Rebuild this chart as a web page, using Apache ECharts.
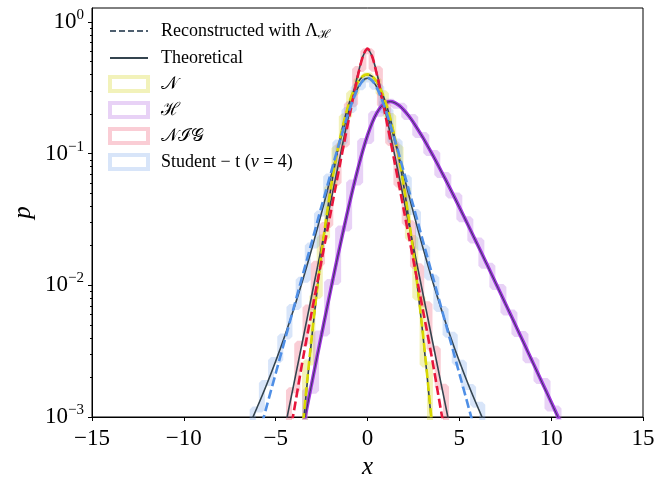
<!DOCTYPE html>
<html>
<head>
<meta charset="utf-8">
<script src="https://cdn.jsdelivr.net/npm/echarts@6/dist/echarts.min.js"></script>
<style>
  html, body { margin: 0; padding: 0; background: #fff; }
  #main { width: 669px; height: 477px; }
</style>
</head>
<body>
<div id="main"></div>
<script>
var xGrid = [-7, -6.5, -6, -5.5, -5, -4.5, -4, -3.5, -3, -2.5, -2.25, -2, -1.75, -1.5, -1.25, -1, -0.75, -0.5, -0.25, 0,
  0.25, 0.5, 0.75, 1, 1.25, 1.5, 1.75, 2, 2.25, 2.5, 3, 3.5, 4, 4.5, 5, 5.5, 6, 6.5, 7, 7.5, 8, 8.5, 9, 9.5, 10, 10.5, 11];

// theoretical curves (solid grey)
var normTheory = [null, null, null, null, null, null, 0.000134, 0.000873, 0.00443, 0.0175, 0.0317, 0.0540, 0.0863, 0.1295, 0.1826, 0.2420, 0.3011, 0.3521, 0.3867, 0.3989,
  0.3867, 0.3521, 0.3011, 0.2420, 0.1826, 0.1295, 0.0863, 0.0540, 0.0317, 0.0175, 0.00443, 0.000873, 0.000134, null, null, null, null, null, null, null, null, null, null, null, null, null, null];
var hypTheory = [null, null, null, null, null, null, 0.000375, 0.000848, 0.00190, 0.00424, 0.00628, 0.00927, 0.0136, 0.0198, 0.0286, 0.0408, 0.0574, 0.0790, 0.1061, 0.1377,
  0.1715, 0.2033, 0.2288, 0.2444, 0.2491, 0.2434, 0.2309, 0.2131, 0.1934, 0.1727, 0.1336, 0.1004, 0.0742, 0.0542, 0.0392, 0.0282, 0.0202, 0.0144, 0.01026, 0.00729, 0.00517, 0.00366, 0.00259, 0.00183, 0.00129, 0.000911, 0.000642];
var nigTheory = [null, null, null, null, 0.00037, 0.00082, 0.00181, 0.0040, 0.0089, 0.0197, 0.0292, 0.0433, 0.0641, 0.0946, 0.139, 0.2035, 0.294, 0.414, 0.549, 0.62,
  0.549, 0.414, 0.294, 0.2035, 0.139, 0.0946, 0.0641, 0.0433, 0.0292, 0.0197, 0.0089, 0.0040, 0.00181, 0.00082, 0.00037, null, null, null, null, null, null, null, null, null, null, null, null];
var tTheory = [0.000587, 0.000825, 0.00119, 0.00175, 0.00265, 0.00415, 0.00671, 0.01127, 0.0197, 0.0357, 0.0485, 0.0663, 0.0905, 0.1229, 0.1644, 0.2147, 0.2699, 0.3223, 0.3608, 0.375,
  0.3608, 0.3223, 0.2699, 0.2147, 0.1644, 0.1229, 0.0905, 0.0663, 0.0485, 0.0357, 0.0197, 0.01127, 0.00671, 0.00415, 0.00265, 0.00175, 0.00119, 0.000825, 0.000587, null, null, null, null, null, null, null, null];

// reconstructed with Lambda_H (coloured dashed)
var normRecon = [null, null, null, null, null, null, 0.00015, 0.00092, 0.00452, 0.0178, 0.0321, 0.0545, 0.0868, 0.1301, 0.1835, 0.2431, 0.3025, 0.3540, 0.3890, 0.4010,
  0.3885, 0.3530, 0.3015, 0.2425, 0.1830, 0.1298, 0.0866, 0.0543, 0.0320, 0.0177, 0.00450, 0.00090, 0.00014, null, null, null, null, null, null, null, null, null, null, null, null, null, null];
var hypRecon = [null, null, null, null, null, null, 0.000380, 0.000852, 0.00191, 0.00425, 0.00630, 0.00930, 0.0137, 0.0199, 0.0287, 0.0409, 0.0575, 0.0792, 0.1063, 0.1379,
  0.1717, 0.2035, 0.2290, 0.2446, 0.2492, 0.2435, 0.2310, 0.2132, 0.1935, 0.1728, 0.1337, 0.1005, 0.0743, 0.0543, 0.0393, 0.0283, 0.0203, 0.0145, 0.01030, 0.00732, 0.00519, 0.00368, 0.00260, 0.00184, 0.00130, 0.000915, 0.000645];
var nigRecon = [null, null, null, null, null, 0.00046, 0.00112, 0.00285, 0.00668, 0.0155, 0.0236, 0.0360, 0.0548, 0.0830, 0.1255, 0.1885, 0.2795, 0.4045, 0.5500, 0.6300,
  0.5500, 0.4045, 0.2795, 0.1885, 0.1255, 0.0830, 0.0548, 0.0360, 0.0236, 0.0155, 0.00668, 0.00285, 0.00112, 0.00046, null, null, null, null, null, null, null, null, null, null, null, null, null];
var tRecon = [null, 0.00037, 0.00066, 0.00119, 0.00214, 0.00385, 0.0069, 0.0124, 0.0222, 0.0400, 0.0530, 0.0710, 0.0950, 0.1260, 0.1650, 0.2120, 0.2650, 0.3180, 0.3600, 0.3780,
  0.3600, 0.3180, 0.2650, 0.2120, 0.1650, 0.1260, 0.0950, 0.0710, 0.0530, 0.0400, 0.0222, 0.0124, 0.0069, 0.00385, 0.00214, 0.00119, 0.00066, 0.00037, null, null, null, null, null, null, null, null, null];

// histograms: bin edges and bin heights
var normEdges = [-3.8, -3.4, -3.0, -2.6, -2.2, -1.8, -1.4, -1.0, -0.6, -0.2, 0.2, 0.6, 1.0, 1.4, 1.8, 2.2, 2.6, 3.0, 3.4, 3.8];
var normHist = [0.00070, 0.0026, 0.0083, 0.0231, 0.0552, 0.1102, 0.1918, 0.2875, 0.3652, 0.3935, 0.3671, 0.2882, 0.1935, 0.1118, 0.0546, 0.0229, 0.0081, 0.0025, 0.00066];
var hypEdges = [-4.0, -3.4, -2.8, -2.2, -1.6, -1.0, -0.4, 0.2, 0.8, 1.4, 2.0, 2.6, 3.2, 3.8, 4.4, 5.0, 5.6, 6.2, 6.8, 7.4, 8.0, 8.6, 9.2, 9.8, 10.4, 11.0];
var hypHist = [0.00066, 0.00158, 0.00431, 0.0106, 0.0271, 0.0605, 0.1252, 0.2011, 0.2480, 0.2319, 0.1902, 0.1389, 0.1015, 0.0689, 0.0481, 0.0318, 0.0219, 0.0141, 0.00972, 0.00622, 0.00428, 0.00270, 0.00188, 0.00116, 0.00082];
var nigEdges = [-4.275, -3.825, -3.375, -2.925, -2.475, -2.025, -1.575, -1.125, -0.675, -0.225, 0.225, 0.675, 1.125, 1.575, 2.025, 2.475, 2.925, 3.375, 3.825, 4.275];
var nigHist = [0.0016, 0.0036, 0.0068, 0.0146, 0.0287, 0.0601, 0.1178, 0.2381, 0.4396, 0.6012, 0.4425, 0.2348, 0.1205, 0.0585, 0.0296, 0.0140, 0.0072, 0.0033, 0.0017];
var tEdges = [-6.75, -6.25, -5.75, -5.25, -4.75, -4.25, -3.75, -3.25, -2.75, -2.25, -1.75, -1.25, -0.75, -0.25, 0.25, 0.75, 1.25, 1.75, 2.25, 2.75, 3.25, 3.75, 4.25, 4.75, 5.25, 5.75, 6.25, 6.75];
var tHist = [0.00088, 0.00114, 0.00181, 0.00271, 0.00408, 0.00684, 0.01102, 0.0201, 0.0352, 0.0671, 0.1218, 0.2152, 0.3195, 0.3668, 0.3231, 0.2139, 0.1240, 0.0656, 0.0361, 0.0194, 0.01148, 0.00662, 0.00421, 0.00258, 0.00169, 0.00124, 0.00079];

var yTicks = [0.001, 0.01, 0.1, 1];
var yMinor = [0.002, 0.003, 0.004, 0.005, 0.006, 0.007, 0.008, 0.009,
  0.02, 0.03, 0.04, 0.05, 0.06, 0.07, 0.08, 0.09,
  0.2, 0.3, 0.4, 0.5, 0.6, 0.7, 0.8, 0.9];

var legendText = {
  recon: 'Reconstructed with Λ{sub|ℋ}',
  theory: 'Theoretical',
  histN: '𝒩',
  histH: 'ℋ',
  histNIG: '𝒩ℐ𝒢',
  histT: 'Student − t ({it|ν} = 4)'
};

var FONT = 'Liberation Serif';
var GREY = '#34444f';
var FLOOR = 1e-6;
var NOFILL = 'rgba(0,0,0,0)';

function curve(ys) {
  var out = [];
  for (var i = 0; i < xGrid.length; i++) {
    if (ys[i] != null) out.push([xGrid[i], ys[i]]);
  }
  return out;
}

function steps(edges, h) {
  var out = [[edges[0], FLOOR]];
  for (var i = 0; i < h.length; i++) out.push([edges[i], h[i]]);
  out.push([edges[edges.length - 1], h[h.length - 1]]);
  out.push([edges[edges.length - 1], FLOOR]);
  return out;
}

function histSeries(name, edges, h, color) {
  return {
    name: name, type: 'line', step: 'end', data: steps(edges, h),
    symbol: 'none', silent: true, z: 1,
    lineStyle: {color: color, width: 6, cap: 'butt'},
    itemStyle: {color: color}
  };
}

function lineSeries(name, ys, color, width, dashed, z) {
  return {
    name: name, type: 'line', data: curve(ys), symbol: 'none', silent: true,
    smooth: 0.3, z: z,
    lineStyle: {color: color, width: width, type: dashed ? [9, 4] : 'solid'},
    itemStyle: {color: color}
  };
}

var cN = 'rgba(214, 214, 40, 0.32)';
var cH = 'rgba(180, 105, 225, 0.30)';
var cNIG = 'rgba(238, 75, 105, 0.28)';
var cT = 'rgba(115, 160, 235, 0.28)';

var myChart = echarts.init(document.getElementById('main'), null, {renderer: 'canvas'});

var option = {
  animation: false,
  backgroundColor: '#fff',
  grid: {
    left: 92, right: 26, top: 8, bottom: 60,
    containLabel: false, outerBoundsMode: 'none',
    show: true, borderColor: '#000', borderWidth: 1
  },
  legend: {
    orient: 'vertical', left: 103, top: 16,
    itemWidth: 38, itemHeight: 14, itemGap: 8,
    selectedMode: false,
    formatter: function (name) { return legendText[name]; },
    textStyle: {
      fontFamily: FONT, fontSize: 18, lineHeight: 18, color: '#000', padding: [0, 0, 0, 8],
      rich: {
        sub: {fontFamily: FONT, fontSize: 12, lineHeight: 18, padding: [8, 0, 0, 0]},
        it: {fontFamily: FONT, fontSize: 18, lineHeight: 18, fontStyle: 'italic'}
      }
    },
    data: [
      {name: 'recon', itemStyle: {color: NOFILL, borderColor: NOFILL, borderWidth: 0}},
      {name: 'theory', itemStyle: {color: NOFILL, borderColor: NOFILL, borderWidth: 0}},
      {name: 'histN', icon: 'rect', itemStyle: {color: NOFILL, borderColor: cN, borderWidth: 4}},
      {name: 'histH', icon: 'rect', itemStyle: {color: NOFILL, borderColor: cH, borderWidth: 4}},
      {name: 'histNIG', icon: 'rect', itemStyle: {color: NOFILL, borderColor: cNIG, borderWidth: 4}},
      {name: 'histT', icon: 'rect', itemStyle: {color: NOFILL, borderColor: cT, borderWidth: 4}}
    ]
  },
  xAxis: {
    type: 'value', min: -15, max: 15, interval: 5,
    name: 'x', nameLocation: 'middle', nameGap: 38,
    nameTextStyle: {fontFamily: FONT, fontSize: 25, fontStyle: 'italic', color: '#000'},
    axisLine: {onZero: false, lineStyle: {color: '#000', width: 1}},
    axisTick: {inside: false, length: 4, lineStyle: {color: '#000'}},
    axisLabel: {
      fontFamily: FONT, fontSize: 23, color: '#000', margin: 10,
      formatter: function (v) { return String(v).replace('-', '−'); }
    },
    splitLine: {show: false}
  },
  yAxis: [{
    type: 'log', logBase: 10, min: 0.001, max: 1.28,
    name: 'p', nameLocation: 'middle', nameGap: 56, nameMoveOverlap: false,
    nameTextStyle: {fontFamily: FONT, fontSize: 25, fontStyle: 'italic', color: '#000'},
    axisLine: {onZero: false, lineStyle: {color: '#000', width: 1}},
    axisTick: {inside: false, length: 4, customValues: yTicks, lineStyle: {color: '#000'}},
    axisLabel: {
      customValues: yTicks, margin: 8,
      fontFamily: FONT, fontSize: 23, color: '#000',
      formatter: function (v) {
        var e = Math.round(Math.log10(v));
        return '10{sup|' + (e < 0 ? '−' + (-e) : e) + '}';
      },
      rich: {
        sup: {fontFamily: FONT, fontSize: 15, color: '#000', padding: [0, 0, 14, 0]}
      }
    },
    splitLine: {show: false}
  }, {
    type: 'log', logBase: 10, min: 0.001, max: 1.28, position: 'left',
    axisLine: {show: false, onZero: false},
    axisTick: {inside: false, length: 2, customValues: yMinor, lineStyle: {color: '#000'}},
    axisLabel: {show: false},
    splitLine: {show: false}
  }],
  series: [
    histSeries('histN', normEdges, normHist, cN),
    histSeries('histH', hypEdges, hypHist, cH),
    histSeries('histNIG', nigEdges, nigHist, cNIG),
    histSeries('histT', tEdges, tHist, cT),
    lineSeries('hypRecon', hypRecon, '#a032e0', 3.5, false, 2),
    lineSeries('normTheory', normTheory, GREY, 1.6, false, 3),
    lineSeries('hypTheory', hypTheory, GREY, 1, false, 3),
    lineSeries('nigTheory', nigTheory, GREY, 1.6, false, 3),
    lineSeries('tTheory', tTheory, GREY, 1.6, false, 3),
    lineSeries('normRecon', normRecon, '#d8d800', 2.6, true, 4),
    lineSeries('nigRecon', nigRecon, '#e8163c', 2.6, true, 4),
    lineSeries('tRecon', tRecon, '#4f8fe6', 2.6, true, 4),
    // legend-only entries
    {name: 'recon', type: 'line', data: [], symbol: 'none', lineStyle: {color: '#4f6070', width: 2, type: [6, 3]}, itemStyle: {color: NOFILL}},
    {name: 'theory', type: 'line', data: [], symbol: 'none', lineStyle: {color: GREY, width: 2}, itemStyle: {color: NOFILL}}
  ]
};

myChart.setOption(option);
</script>
</body>
</html>
